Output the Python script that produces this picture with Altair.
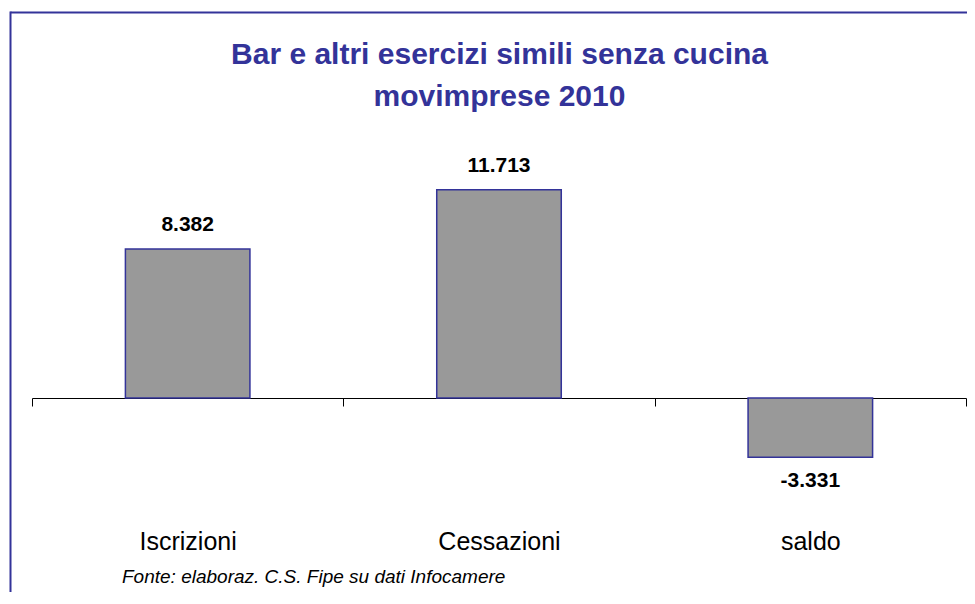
import altair as alt
import pandas as pd

CATEGORIES = ["Iscrizioni", "Cessazioni", "saldo"]
VALUES = [8382, 11713, -3331]
TITLE_LINES = ["Bar e altri esercizi simili senza cucina", "movimprese 2010"]
SOURCE = "Fonte: elaboraz. C.S. Fipe su dati Infocamere"

FONT = "Liberation Sans"
NAVY = "#333399"

df = pd.DataFrame({"cat": CATEGORIES, "value": VALUES})
one = pd.DataFrame({"k": [0]})
src = pd.DataFrame({"t": [SOURCE]})

x = alt.X(
    "cat:N",
    sort=CATEGORIES,
    scale=alt.Scale(paddingInner=0, paddingOuter=0),
    axis=alt.Axis(
        title=None,
        orient="bottom",
        offset=-80,
        grid=False,
        domainColor="black",
        domainWidth=1,
        tickColor="black",
        tickWidth=1,
        tickSize=8,
        tickBand="extent",
        labelFont=FONT,
        labelFontSize=25,
        labelColor="black",
        labelAngle=0,
        labelPadding=123,
    ),
)
y = alt.Y("value:Q", scale=alt.Scale(domain=[-4500, 13500], nice=False), axis=None)

bars = alt.Chart(df).mark_bar(
    fill="#999999", stroke=NAVY, strokeWidth=1.5, width=alt.RelativeBandSize(0.4)
).encode(x=x, y=y)

lab = alt.Chart(df).transform_calculate(
    label="replace(replace(format(datum.value, ','), ',', '.'), '\u2212', '-')"
)
pos_labels = lab.transform_filter("datum.value >= 0").mark_text(
    font=FONT, fontSize=21, fontWeight="bold", color="black", baseline="alphabetic", dy=-18
).encode(x=x, y=y, text="label:N")
neg_labels = lab.transform_filter("datum.value < 0").mark_text(
    font=FONT, fontSize=21, fontWeight="bold", color="black", baseline="alphabetic", dy=30
).encode(x=x, y=y, text="label:N")

title = alt.Chart(one).mark_text(
    font=FONT, fontSize=30, fontWeight="bold", color=NAVY, align="center",
    baseline="alphabetic", lineHeight=42
).encode(x=alt.value(467.5), y=alt.value(-94), text=alt.value(TITLE_LINES))

footer = alt.Chart(src).mark_text(
    font=FONT, fontSize=19, fontStyle="italic", color="black", align="left", baseline="alphabetic"
).encode(x=alt.value(90), y=alt.value(425), text="t:N")

border_top = alt.Chart(one).mark_rule(color=NAVY, strokeWidth=2).encode(
    x=alt.value(-21.5), x2=alt.value(960), y=alt.value(-145.5)
)
border_left = alt.Chart(one).mark_rule(color=NAVY, strokeWidth=2).encode(
    x=alt.value(-21.5), y=alt.value(-146.5), y2=alt.value(460)
)

chart = alt.layer(
    border_top, border_left, title, bars, pos_labels, neg_labels, footer
).properties(
    width=934,
    height=320,
    padding={"left": 24, "top": 150, "right": 1, "bottom": 114},
    autosize=alt.AutoSizeParams(type="none"),
).configure_view(strokeWidth=0)

chart.save("out.html", embed_options={"renderer": "svg", "actions": False})
